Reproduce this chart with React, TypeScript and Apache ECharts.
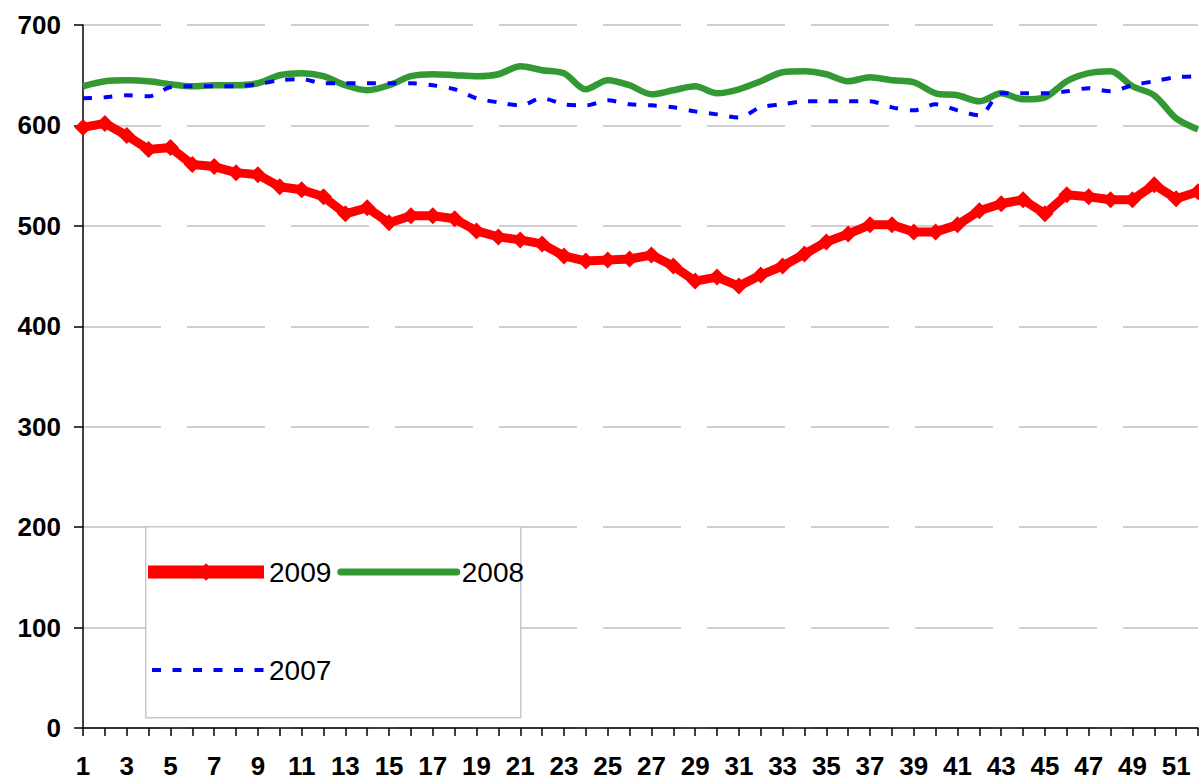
import React, { useEffect, useRef } from "react";
import * as echarts from "echarts";

const FONT = "'Liberation Sans', Arial, Helvetica, sans-serif";

const weeks = [
  "1", "2", "3", "4", "5", "6", "7", "8", "9", "10",
  "11", "12", "13", "14", "15", "16", "17", "18", "19", "20",
  "21", "22", "23", "24", "25", "26", "27", "28", "29", "30",
  "31", "32", "33", "34", "35", "36", "37", "38", "39", "40",
  "41", "42", "43", "44", "45", "46", "47", "48", "49", "50",
  "51", "52",
];

const series2009 = [
  598, 602, 590, 576, 578, 561, 559, 553, 551, 539,
  536, 529, 512, 518, 503, 510, 510, 507, 495, 489,
  486, 482, 470, 465, 466, 467, 471, 460, 445, 449,
  440, 451, 460, 472, 484, 492, 501, 501, 494, 494,
  501, 515, 522, 526, 512, 531, 529, 526, 526, 541,
  527, 534,
];

const series2008 = [
  639, 644, 645, 644, 641, 639, 640, 640, 642, 650,
  652, 649, 640, 635, 640, 649, 651, 650, 649, 651,
  659, 655, 652, 636, 645, 640, 631, 635, 639, 632,
  636, 644, 653, 654, 651, 644, 648, 645, 643, 632,
  630, 624, 632, 626, 628, 644, 652, 654, 639, 630,
  607, 596,
];

const series2007 = [
  627, 628, 630, 629, 638, 639, 639, 639, 641, 645,
  646, 642, 642, 642, 642, 642, 640, 636, 627, 623,
  620, 627, 621, 620, 625, 621, 620, 618, 614, 611,
  608, 618, 621, 624, 624, 624, 624, 618, 615, 621,
  615, 610, 632, 632, 632, 634, 637, 634, 640, 644,
  648, 649,
];

const yMin = 0;
const yMax = 700;
const yStep = 100;

export default function App() {
  const ref = useRef<HTMLDivElement>(null);

  useEffect(() => {
    if (!ref.current) return;
    const chart = echarts.init(ref.current, null, { renderer: "svg" });
    const option: any = {
      animation: false,
      backgroundColor: "#ffffff",
      textStyle: { fontFamily: FONT },
      grid: {
        left: 83,
        right: 1,
        top: 25,
        bottom: 52,
        containLabel: false,
        outerBoundsMode: "none",
      },
      xAxis: {
        type: "category",
        data: weeks,
        boundaryGap: false,
        axisLine: { show: true, lineStyle: { color: "#000", width: 1.5 } },
        axisTick: {
          show: true,
          interval: 0,
          length: 8,
          lineStyle: { color: "#000", width: 1.5 },
        },
        axisLabel: {
          interval: 1,
          color: "#000",
          fontSize: 26,
          fontWeight: "bold",
          fontFamily: FONT,
          margin: 25,
        },
        splitLine: { show: false },
      },
      yAxis: {
        type: "value",
        min: yMin,
        max: yMax,
        interval: yStep,
        axisLine: { show: true, lineStyle: { color: "#000", width: 1.5 } },
        axisTick: { show: true, length: 9, lineStyle: { color: "#000", width: 1.5 } },
        axisLabel: {
          color: "#000",
          fontSize: 26,
          fontWeight: "bold",
          fontFamily: FONT,
          margin: 22,
        },
        splitLine: {
          show: true,
          lineStyle: { color: "#c0c0c0", width: 1.5, type: [78, 26] },
        },
      },
      graphic: [
        {
          type: "rect",
          left: 145,
          top: 526,
          z: 3,
          shape: { x: 0, y: 0, width: 375, height: 191 },
          style: { fill: "#ffffff", stroke: "#c8c8c8", lineWidth: 1.5 },
        },
      ],
      legend: [
        {
          data: [
            { name: "2009", lineStyle: { width: 13, cap: "butt" } },
            {
              name: "2008",
              lineStyle: { width: 7, cap: "round" },
              itemStyle: { opacity: 0 },
            },
          ],
          orient: "horizontal",
          left: 141.5,
          top: 558,
          padding: 0,
          itemWidth: 116,
          itemHeight: 22,
          itemGap: 6,
          selectedMode: false,
          z: 6,
          textStyle: { color: "#000", fontSize: 28, fontFamily: FONT },
        },
        {
          data: [
            { name: "2007", lineStyle: { width: 4 }, itemStyle: { opacity: 0 } },
          ],
          orient: "horizontal",
          left: 150,
          top: 656,
          padding: 0,
          itemWidth: 112,
          itemHeight: 22,
          selectedMode: false,
          z: 6,
          textStyle: { color: "#000", fontSize: 28, fontFamily: FONT },
        },
      ],
      series: [
        {
          name: "2009",
          type: "line",
          data: series2009,
          symbol: "diamond",
          symbolSize: 17,
          showSymbol: true,
          showAllSymbol: true,
          lineStyle: { color: "#ff0000", width: 9 },
          itemStyle: { color: "#ff0000" },
          emphasis: { disabled: true },
          z: 5,
        },
        {
          name: "2008",
          type: "line",
          data: series2008,
          symbol: "none",
          smooth: 0.3,
          lineStyle: { color: "#339933", width: 6.5 },
          itemStyle: { color: "#339933" },
          emphasis: { disabled: true },
          z: 3,
        },
        {
          name: "2007",
          type: "line",
          data: series2007,
          symbol: "none",
          smooth: 0.3,
          lineStyle: { color: "#0000ff", width: 4, type: [9, 11.5] },
          itemStyle: { color: "#0000ff" },
          emphasis: { disabled: true },
          z: 4,
        },
      ],
    };
    chart.setOption(option);
    return () => chart.dispose();
  }, []);

  return (
    <div
      ref={ref}
      style={{ position: "absolute", left: 0, top: 0, width: 1199, height: 780 }}
    />
  );
}
